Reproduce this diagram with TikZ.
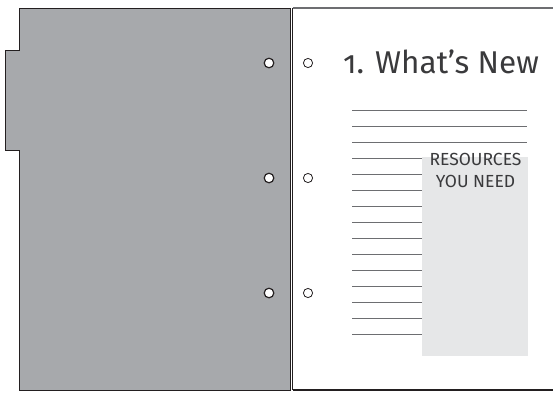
\documentclass[tikz,border=0pt]{standalone}
\usepackage{fontspec}
\setmainfont{Fira Sans}[Numbers=OldStyle]
\usepackage{xcolor}
\usetikzlibrary{positioning}
\definecolor{ink}     {HTML}{231F20}
\definecolor{tabgray} {HTML}{A7A9AC}
\definecolor{boxgray} {HTML}{E6E7E8}
\definecolor{rulegray}{HTML}{6D6E71}
\definecolor{txtgray} {HTML}{3A3A3C}

\begin{document}
\begin{tikzpicture}[x=1pt,y=-1pt,
    hole/.style={draw=ink,fill=white,line width=1.2pt},
    rule/.style={draw=rulegray,line width=1.7pt},
    title/.style={text=txtgray,font=\fontsize{31.5}{34}\selectfont,inner sep=0pt},
    boxtext/.style={text=txtgray,font=\fontsize{17.5}{22}\selectfont,align=center,inner sep=0pt}]
        \useasboundingbox (0,0) rectangle (553,394);
        % the page behind the divider
        \draw[rulegray,line width=1.2pt] (292.5,8) -- (553,8);
        \draw[ink,line width=1.2pt] (292.5,390) -- (553,390);
        \draw[ink,line width=1.4pt] (292.5,8) -- (292.5,390);
        % divider with its tab
        \draw[ink,fill=tabgray,line width=1pt]
          (19,8) -- (290.5,8) -- (290.5,390) -- (19,390) -- (19,150.7)
          -- (5,150.7) -- (5,50.7) -- (19,50.7) -- cycle;
        \foreach \y in {63,178,293} {
          \draw[hole] (269,\y) circle (4.8);
          \draw[hole,line width=0.8pt] (308,\y) circle (4.6);
        }
        % text rules
        \fill[boxgray] (422,156.7) rectangle (528,355.7);
        \foreach \k in {0,1,2} {
          \draw[rule] (352,110.5+16*\k) -- (527,110.5+16*\k);
        }
        \foreach \k in {3,...,14} {
          \draw[rule] (352,110.5+16*\k) -- (422,110.5+16*\k);
        }
        \node[title,anchor=base west] (heading) at (343,73) {1. What’s New};
        \node[boxtext,anchor=base] (resources) at (475.5,187) {RESOURCES\\YOU NEED};
\end{tikzpicture}
\end{document}
